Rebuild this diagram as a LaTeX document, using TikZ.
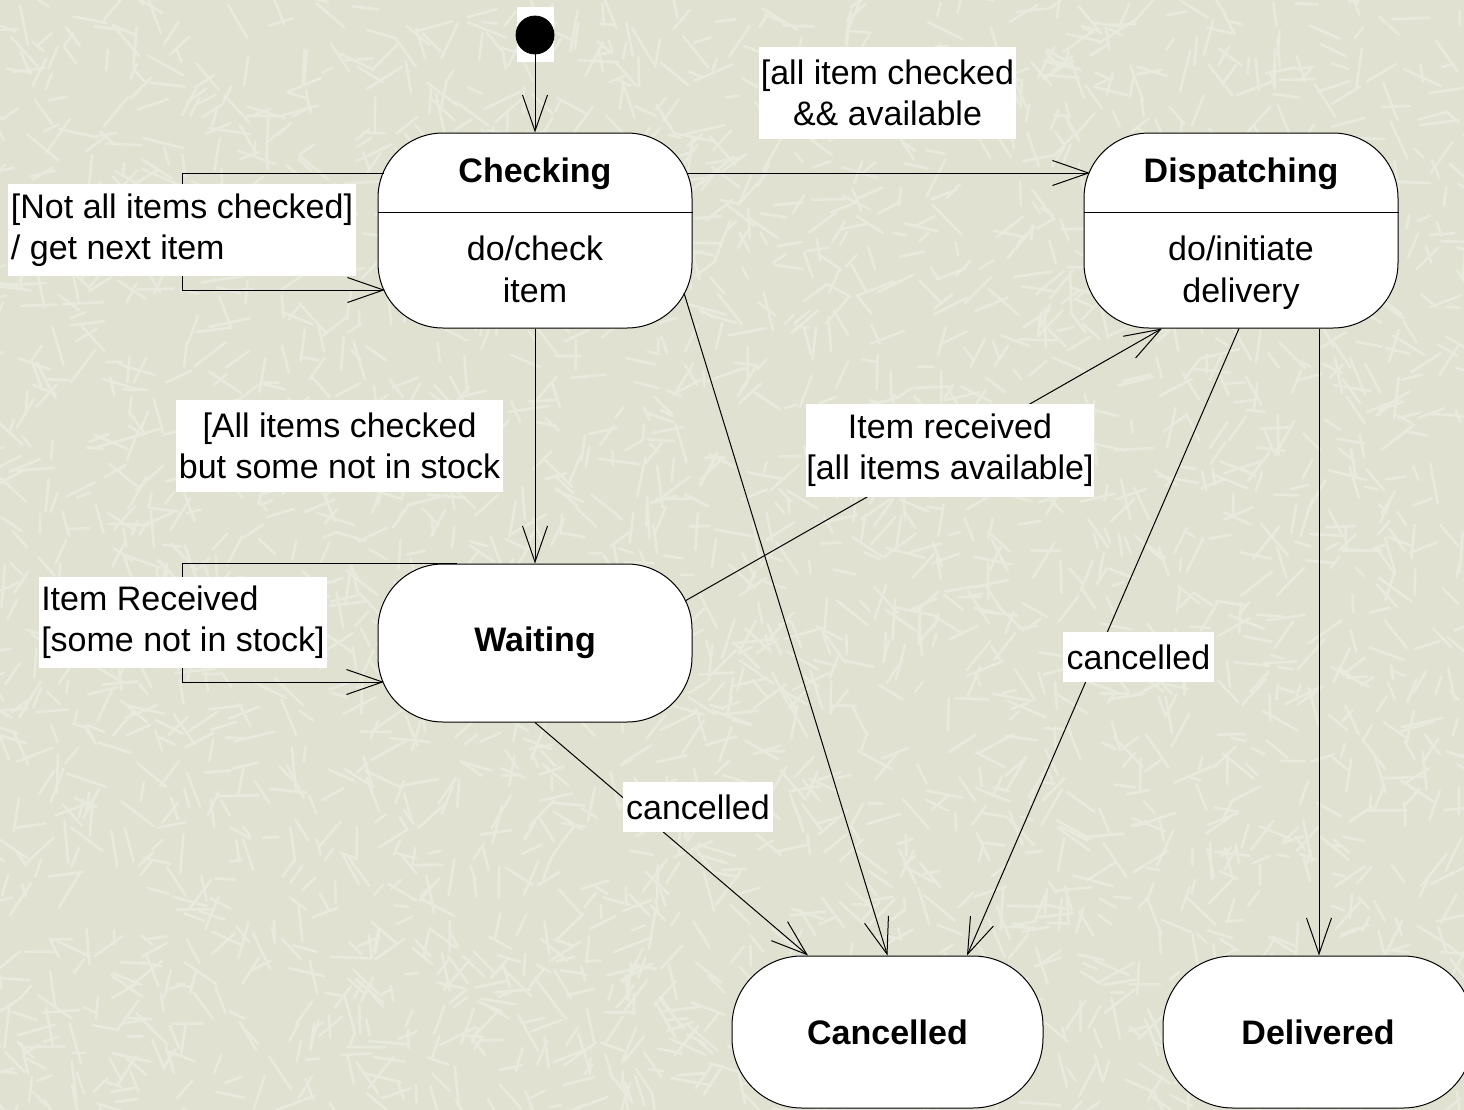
\documentclass[tikz,border=0pt]{standalone}
\usepackage{fontspec}
\setmainfont{Liberation Sans}
\usetikzlibrary{arrows.meta,calc}
\definecolor{paper}{RGB}{224,225,208}
\definecolor{fibre}{RGB}{233,234,222}
\begin{document}
\begin{tikzpicture}[x=0.5pt,y=-0.5pt,
  every node/.style={font=\fontsize{17pt}{20.5pt}\selectfont},
  statebox/.style={draw, fill=white, line width=0.5pt, rounded corners=32.5pt,
    inner sep=0pt, font=\fontsize{17pt}{20.5pt}\selectfont\bfseries},
  stname/.style={anchor=base, inner sep=0pt, font=\fontsize{17pt}{20.5pt}\selectfont\bfseries},
  sbody/.style={anchor=base, inner sep=0pt},
  guard/.style={fill=white, inner sep=0pt, align=center},
  tr/.style={draw, line width=0.5pt, -{Straight Barb[length=18pt,width=12.5pt]}},
  fibrestroke/.style={fibre, line width=1.3pt, line cap=round}]

\useasboundingbox (0,0) rectangle (1464,1110);
\clip (0,0) rectangle (1464,1110);

% textured paper background
\fill[paper] (0,0) rectangle (1464,1110);
\pgfmathsetseed{1234}
\foreach \i in {1,...,3000}{%
  \pgfmathsetmacro\fx{1484*rnd-10}%
  \pgfmathsetmacro\fy{1130*rnd-10}%
  \pgfmathsetmacro\fa{180*rnd}%
  \pgfmathsetmacro\fl{12+30*rnd}%
  \draw[fibrestroke] (\fx,\fy) -- ++(\fa:\fl);
}

% initial pseudo-state
\node[fill=white, minimum width=18.5pt, minimum height=27.5pt, inner sep=0pt] (initbg) at (535.5,34.5) {};
\node[circle, draw, fill=black, minimum size=19pt, inner sep=0pt] (init) at (535,35) {};

% states
\node[statebox, minimum width=157pt, minimum height=97.5pt] (chk) at (535,230.5) {};
\node[statebox, minimum width=157pt, minimum height=97.5pt] (dsp) at (1241,230.5) {};
\node[statebox, minimum width=157pt, minimum height=79pt] (wai) at (535,643) {Waiting};
\node[statebox, rounded corners=35pt, minimum width=155.5pt, minimum height=76pt] (can) at (887.5,1032) {Cancelled};
\node[statebox, rounded corners=35pt, minimum width=155pt, minimum height=76pt] (del) at (1318,1032) {Delivered};

% compartments of the activity states
\draw[line width=0.5pt] ($(chk.west)+(0,-18.5)$) -- ($(chk.east)+(0,-18.5)$);
\draw[line width=0.5pt] ($(dsp.west)+(0,-18.5)$) -- ($(dsp.east)+(0,-18.5)$);
\node[stname] (chkname) at ($(chk.center)+(0,-48.5)$) {Checking};
\node[sbody] (chkdo1) at ($(chk.center)+(0,29.5)$) {do/check};
\node[sbody] (chkdo2) at ($(chk.center)+(0,71.5)$) {item};
\node[stname] (dspname) at ($(dsp.center)+(0,-48.5)$) {Dispatching};
\node[sbody] (dspdo1) at ($(dsp.center)+(0,29.5)$) {do/initiate};
\node[sbody] (dspdo2) at ($(dsp.center)+(0,71.5)$) {delivery};

% transitions
\draw[tr] (init.south) -- (chk.north);
\draw[tr] ($(chk.center)+(-151,-57.5)$) -| ($(chk.west)+(-195,0)$) |- ($(chk.center)+(-150,59.5)$);
\draw[tr] ($(chk.center)+(152,-57.5)$) -- ($(dsp.center)+(-151,-57.5)$);
\draw[tr] (chk.south) -- (wai.north);
\draw[tr] ($(chk.center)+(149,62.5)$) -- (can.north);
\draw[tr] ($(wai.north)+(-78,0)$) -| ($(wai.west)+(-195,0)$) |- ($(wai.center)+(-151,39)$);
\draw[tr] ($(wai.center)+(150,-42)$) -- ($(dsp.south)+(-79,0)$);
\draw[tr] (wai.south) -- ($(can.north)+(-79.5,0)$);
\draw[tr] ($(dsp.south)+(-2,0)$) -- ($(can.north)+(79.5,0)$);
\draw[tr] ($(dsp.south)+(78,0)$) -- ($(del.north)+(1,0)$);

% guards and events
\node[guard, align=left, minimum width=174pt, minimum height=46pt] (g1) at (182,230)
  {[Not all items checked]\\/ get next item};
\node[guard, minimum width=128.5pt, minimum height=46pt] (g2) at (887.5,93)
  {[all item checked\\\&\& available};
\node[guard, minimum width=163.5pt, minimum height=46pt] (g3) at (339.5,446)
  {[All items checked\\but some not in stock};
\node[guard, minimum width=143pt, minimum height=46.5pt] (g4) at (950,450)
  {Item received\\{[}all items available]};
\node[guard, align=left, minimum width=144pt, minimum height=45.5pt] (g5) at (183,622.5)
  {Item Received\\{[}some not in stock]};
\node[guard, minimum width=75pt, minimum height=25pt] (g6) at (698,807) {cancelled};
\node[guard, minimum width=75.5pt, minimum height=25pt] (g7) at (1138.5,657) {cancelled};
\end{tikzpicture}
\end{document}
